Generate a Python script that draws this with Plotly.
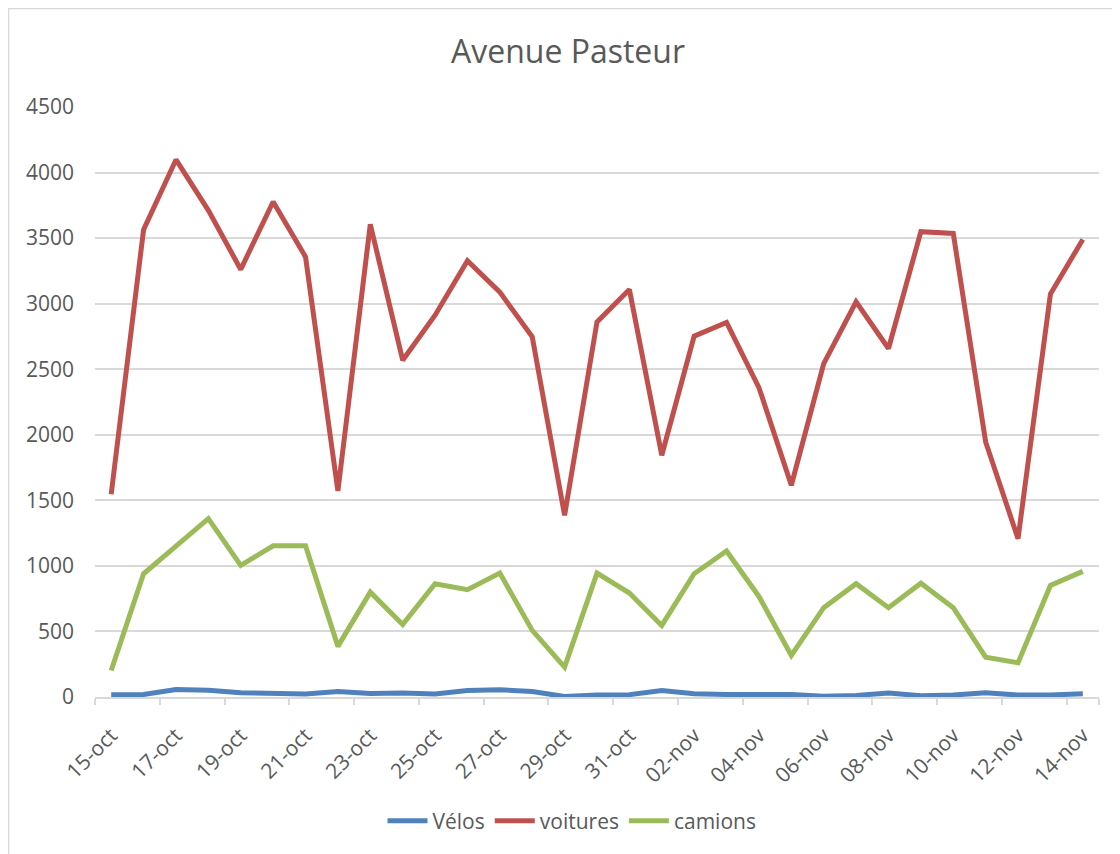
import plotly.graph_objects as go

dates = ["15-oct", "16-oct", "17-oct", "18-oct", "19-oct", "20-oct", "21-oct", "22-oct",
         "23-oct", "24-oct", "25-oct", "26-oct", "27-oct", "28-oct", "29-oct", "30-oct",
         "31-oct", "01-nov", "02-nov", "03-nov", "04-nov", "05-nov", "06-nov", "07-nov",
         "08-nov", "09-nov", "10-nov", "11-nov", "12-nov", "13-nov", "14-nov"]

velos = [17, 20, 57, 52, 32, 30, 23, 42, 27, 30, 23, 50, 55, 42, 4, 15,
         18, 50, 25, 20, 18, 20, 5, 12, 30, 10, 15, 32, 15, 15, 25]

voitures = [1546, 3565, 4098, 3712, 3261, 3777, 3357, 1571, 3605, 2569, 2912, 3327,
            3088, 2747, 1386, 2861, 3108, 1844, 2752, 2857, 2360, 1615, 2543, 3014,
            2658, 3549, 3536, 1945, 1208, 3073, 3490]

camions = [202, 940, 1150, 1360, 1004, 1153, 1153, 386, 800, 553, 864, 818, 945,
           508, 228, 945, 793, 546, 940, 1113, 767, 317, 681, 864, 681, 868, 681,
           304, 261, 851, 958]

tick_labels = dates[::2]
y_ticks = [0, 500, 1000, 1500, 2000, 2500, 3000, 3500, 4000, 4500]

series = [("Vélos", velos, "#4F81BD"),
          ("voitures", voitures, "#C0504D"),
          ("camions", camions, "#9BBB59")]

FONT = "Open Sans"
GREY = "#595959"

# the page body has an 8px margin; figure is sized/placed to compensate
W, H = 1112, 846
L, R, T, B = 87, 21, 99, 157
PW, PH = W - L - R, H - T - B

fig = go.Figure()
for name, vals, col in series:
    fig.add_trace(go.Scatter(x=dates, y=vals, name=name, mode="lines",
                             line=dict(color=col, width=5, shape="linear")))

fig.update_layout(
    width=W, height=H,
    margin=dict(l=L, r=R, t=T, b=B),
    paper_bgcolor="white", plot_bgcolor="white",
    font=dict(family=FONT, color=GREY, size=21),
    title=dict(text="Avenue Pasteur", x=(568 - 8) / W, xref="container", xanchor="center",
               y=1 - (52 - 8) / H, yref="container", yanchor="middle",
               font=dict(family=FONT, size=32, color=GREY)),
    showlegend=True,
    legend=dict(orientation="h", x=(572 - 8 - L) / PW, xanchor="center",
                y=(689 - 813) / PH, yanchor="middle",
                font=dict(family=FONT, size=21, color=GREY), itemwidth=40,
                tracegroupgap=0, bgcolor="rgba(0,0,0,0)"),
    xaxis=dict(type="category", categoryorder="array", categoryarray=dates,
               range=[-0.5, len(dates) - 0.5],
               tickmode="array", tickvals=tick_labels, ticktext=tick_labels,
               tickson="boundaries", ticks="outside", ticklen=6, tickcolor="#d9d9d9",
               tickwidth=1.5, ticklabelstandoff=16,
               showgrid=False, showline=True, linecolor="#d9d9d9", linewidth=1.5,
               tickangle=-45, tickfont=dict(family=FONT, size=21, color=GREY),
               zeroline=False),
    yaxis=dict(range=[0, 4500], tickmode="array", tickvals=y_ticks,
               showgrid=True, gridcolor="#d9d9d9", gridwidth=1.5,
               zeroline=False, showline=False, ticks="",
               ticklabelstandoff=20,
               tickfont=dict(family=FONT, size=21, color=GREY)),
)

fig.add_shape(type="rect", xref="paper", yref="paper",
              x0=(0.5 - L) / PW, x1=1.2, y0=-0.6, y1=(H - B - 0.5) / PH,
              line=dict(color="#d9d9d9", width=1.5), fillcolor="rgba(0,0,0,0)", layer="below")

fig.write_html("out.html")
